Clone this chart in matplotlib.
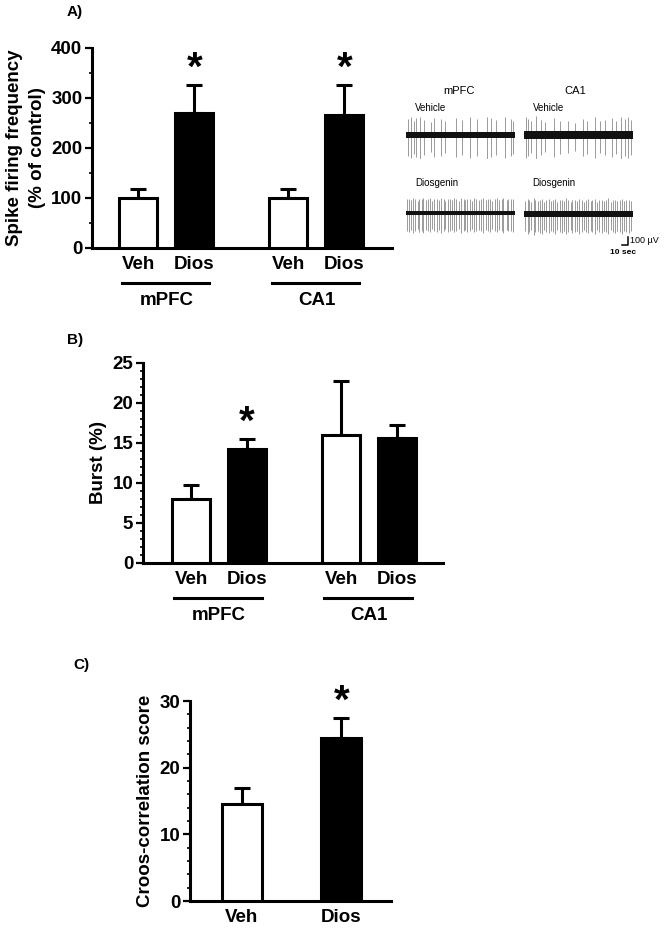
import matplotlib
matplotlib.use("Agg")
import matplotlib.pyplot as plt
from matplotlib.ticker import MultipleLocator

plt.rcParams['font.family'] = ['Liberation Sans', 'DejaVu Sans']
plt.rcParams['font.weight'] = 'bold'

# ---- data ----
groups = ['Veh', 'Dios', 'Veh', 'Dios']
regions = ['mPFC', 'CA1']

spike_mean = [100, 270, 100, 265]
spike_sem = [18, 55, 17, 61]
spike_sig = [False, True, False, True]

burst_mean = [8.0, 14.2, 16.0, 15.6]
burst_sem = [1.7, 1.3, 6.7, 1.6]
burst_sig = [False, True, False, False]

xcorr_groups = ['Veh', 'Dios']
xcorr_mean = [14.5, 24.5]
xcorr_sem = [2.5, 2.9]
xcorr_sig = [False, True]

# example traces: spike times (s) and amplitudes (uV)
trace_len = 180
mpfc_veh_t = [4, 8, 13, 17, 23, 29, 42, 47, 58, 65, 82, 92, 105, 118, 133, 141, 148, 163, 173, 177]
mpfc_veh_a = [200, 220, 180, 210, 230, 190, 160, 210, 200, 170, 210, 190, 220, 200, 230, 210, 190, 220, 200, 180]
ca1_veh_t = [3, 7, 12, 20, 28, 35, 49, 60, 72, 85, 98, 104, 118, 126, 134, 146, 152, 160, 166, 172, 176]
ca1_veh_a = [220, 200, 170, 240, 190, 160, 210, 180, 170, 150, 200, 180, 220, 170, 190, 210, 180, 230, 200, 220, 190]
mpfc_dio_t = [2, 5, 9, 11, 15, 19, 21, 26, 28, 33, 36, 40, 43, 46, 51, 54, 57, 62, 64, 69, 72, 76, 79,
              82, 87, 90, 95, 98, 101, 106, 109, 113, 116, 121, 124, 127, 132, 135, 139, 142, 147,
              150, 154, 158, 161, 166, 169, 173, 177]
mpfc_dio_a = [170, 180, 160, 190, 170, 150, 180, 170, 190, 160, 175, 185, 150, 170, 180, 160, 190, 170,
              150, 180, 170, 160, 185, 175, 150, 190, 170, 160, 180, 170, 150, 185, 175, 160, 170, 190,
              160, 170, 180, 150, 175, 185, 160, 170, 190, 160, 175, 170, 180]
ca1_dio_t = [2, 6, 8, 12, 16, 18, 23, 26, 30, 33, 37, 41, 44, 48, 52, 55, 59, 62, 66, 70, 73, 77, 80,
             84, 88, 91, 95, 99, 102, 106, 110, 113, 117, 121, 124, 128, 132, 136, 139, 143, 147,
             150, 154, 158, 162, 165, 169, 173, 176]
ca1_dio_a = [160, 190, 170, 150, 200, 170, 160, 180, 190, 150, 170, 185, 160, 175, 190, 150, 170, 180,
             160, 195, 170, 150, 180, 170, 160, 190, 175, 150, 170, 185, 160, 170, 190, 155, 175, 180,
             160, 170, 195, 150, 170, 180, 165, 175, 190, 160, 170, 180, 165]

W, H = 668, 930
FS = 13.5
fig = plt.figure(figsize=(W / 100, H / 100), dpi=100)


def px_axes(left, top, width, height):
    return fig.add_axes([left / W, 1 - (top + height) / H, width / W, height / H])


def bar_panel(ax, pos, labels, means, sems, sig, width, ymax, major, minor):
    colors = ['white', 'black'] * (len(means) // 2)
    ax.bar(pos, means, width=width, color=colors, edgecolor='black', linewidth=2.2, zorder=3)
    ax.errorbar(pos, means, yerr=[[0] * len(sems), sems], fmt='none', ecolor='black',
                elinewidth=2.2, capsize=6, capthick=2.2, zorder=2)
    for x, m, s, flag in zip(pos, means, sems, sig):
        if flag:
            ax.annotate('*', (x, m + s), xytext=(0, -2), textcoords='offset points',
                        ha='center', va='bottom', fontsize=29, fontweight='bold')
    ax.set_ylim(0, ymax)
    ax.yaxis.set_major_locator(MultipleLocator(major))
    ax.yaxis.set_minor_locator(MultipleLocator(minor))
    ax.set_xticks(pos)
    ax.set_xticklabels(labels)
    for s in ['top', 'right']:
        ax.spines[s].set_visible(False)
    for s in ['left', 'bottom']:
        ax.spines[s].set_linewidth(2.2)
    ax.tick_params(axis='y', which='major', length=5, width=1.6, labelsize=FS, pad=2)
    ax.tick_params(axis='y', which='minor', length=2.5, width=1.2)
    ax.tick_params(axis='x', length=0, labelsize=FS, pad=6)


def group_lines(ax, pos):
    tr = ax.get_xaxis_transform()
    for i, name in enumerate(regions):
        x0, x1 = pos[2 * i] - 0.30, pos[2 * i + 1] + 0.26
        ax.plot([x0, x1], [-0.175, -0.175], color='black', lw=2.2, transform=tr, clip_on=False)
        ax.text((pos[2 * i] + pos[2 * i + 1]) / 2, -0.262, name, transform=tr, ha='center',
                va='center', fontsize=FS, fontweight='bold')


pos4 = [0, 1, 2.68, 3.68]

# ---- A ----
axA = px_axes(92, 48, 300, 200)
bar_panel(axA, pos4, groups, spike_mean, spike_sem, spike_sig, 0.68, 400, 100, 50)
axA.set_xlim(-0.83, 4.53)
group_lines(axA, pos4)
axA.set_ylabel('Spike firing frequency\n(% of control)', fontsize=FS, fontweight='bold',
               linespacing=1.45, labelpad=4)
fig.text(67 / W, 1 - 12 / H, 'A)', fontsize=11, fontweight='bold', va='center')

# ---- B ----
axB = px_axes(143, 362.7, 300, 200)
bar_panel(axB, pos4, groups, burst_mean, burst_sem, burst_sig, 0.68, 25, 5, 1)
axB.set_xlim(-0.86, 4.5)
group_lines(axB, pos4)
axB.set_ylabel('Burst (%)', fontsize=FS, fontweight='bold', labelpad=4)
fig.text(67 / W, 1 - 340 / H, 'B)', fontsize=11, fontweight='bold', va='center')

# ---- C ----
axC = px_axes(190, 701, 201, 200)
bar_panel(axC, [0, 1], xcorr_groups, xcorr_mean, xcorr_sem, xcorr_sig, 0.4, 30, 10, 2)
axC.set_xlim(-0.52, 1.5)
axC.set_ylabel('Croos-correlation score', fontsize=FS, fontweight='bold', labelpad=4)
fig.text(73 / W, 1 - 665 / H, 'C)', fontsize=11, fontweight='bold', va='center')


# ---- example traces ----
def trace(left, center, times, amps, noise):
    ax = px_axes(left, center - 24, 109, 48)
    ax.fill_between([0, trace_len], [-noise, -noise], [noise, noise], color='#111111', lw=0, zorder=3)
    ax.vlines(times, [-1.3 * a for a in amps], amps, color='#8a8a8a', lw=0.6, zorder=2)
    ax.set_xlim(0, trace_len)
    ax.set_ylim(-300, 300)
    ax.axis('off')
    return ax


trace(406, 135, mpfc_veh_t, mpfc_veh_a, 40)
trace(524, 135, ca1_veh_t, ca1_veh_a, 55)
trace(406, 213, mpfc_dio_t, mpfc_dio_a, 28)
axS = trace(524, 214, ca1_dio_t, ca1_dio_a, 32)

# scale bar: 10 sec / 100 uV
axS.plot([162, 172, 172], [-390, -390, -290], color='black', lw=1.1, clip_on=False)
axS.text(175, -330, '100 µV', fontsize=6.5, fontweight='normal', va='center', ha='left')
axS.text(163, -475, '10 sec', fontsize=6, fontweight='bold', va='center', ha='center')

tn = dict(fontweight='normal', va='center')
fig.text(459 / W, 1 - 91 / H, 'mPFC', fontsize=8, ha='center', **tn)
fig.text(575 / W, 1 - 91 / H, 'CA1', fontsize=8, ha='center', **tn)
fig.text(415 / W, 1 - 108 / H, 'Vehicle', fontsize=7, ha='left', **tn)
fig.text(533 / W, 1 - 108 / H, 'Vehicle', fontsize=7, ha='left', **tn)
fig.text(415 / W, 1 - 183 / H, 'Diosgenin', fontsize=7, ha='left', **tn)
fig.text(532 / W, 1 - 183 / H, 'Diosgenin', fontsize=7, ha='left', **tn)

fig.savefig('out.png', dpi=100)
